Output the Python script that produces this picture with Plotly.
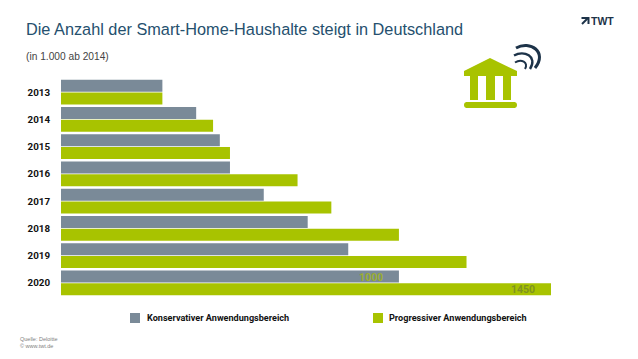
import plotly.graph_objects as go

W, H = 638, 359
years = ["2013", "2014", "2015", "2016", "2017", "2018", "2019", "2020"]
konservativ = [300, 400, 470, 500, 600, 730, 850, 1000]
progressiv = [300, 450, 500, 700, 800, 1000, 1200, 1450]
name_k = "Konservativer Anwendungsbereich"
name_p = "Progressiver Anwendungsbereich"
title = "Die Anzahl der Smart-Home-Haushalte steigt in Deutschland"
subtitle = "(in 1.000 ab 2014)"
source = "Quelle: Deloitte<br>© www.twt.de"

GRAY, GREEN, NAVY = "#7a8a98", "#a8c300", "#1d3349"
X0, X1, Y0, Y1 = 61, 551, 78.5, 296.5

px = lambda x: x / W
py = lambda y: 1 - y / H


def path(d):
    out = []
    for seg in d:
        cmd, *c = seg
        pts = [f"{px(c[i]):.5f},{py(c[i + 1]):.5f}" for i in range(0, len(c), 2)]
        out.append(cmd + " ".join(pts))
    return " ".join(out)


fig = go.Figure()
fig.add_bar(y=years, x=konservativ, name=name_k, orientation="h", marker_color=GRAY, marker_line_width=0)
fig.add_bar(y=years, x=progressiv, name=name_p, orientation="h", marker_color=GREEN, marker_line_width=0)

shapes = []


def rect(x0, y0, x1, y1, color):
    shapes.append(dict(type="rect", xref="paper", yref="paper", x0=px(x0), x1=px(x1), y0=py(y0), y1=py(y1),
                       fillcolor=color, line_width=0, layer="above"))


rect(130, 313, 140, 323, GRAY)
rect(373, 313, 383, 323, GREEN)
shapes.append(dict(type="path", xref="paper", yref="paper", fillcolor=GREEN, line_width=0,
                   path=path([("M", 490, 58), ("L", 517, 71), ("L", 517, 76), ("L", 464, 76), ("L", 464, 71)]) + " Z"))
rect(470, 75, 478, 100, GREEN)
rect(486, 75, 495, 100, GREEN)
rect(503, 75, 511, 100, GREEN)
rect(466, 102, 515, 108, GREEN)
shapes.append(dict(type="circle", xref="paper", yref="paper", fillcolor=GREEN, line_width=0,
                   x0=px(464), x1=px(470), y0=py(102), y1=py(108)))
shapes.append(dict(type="circle", xref="paper", yref="paper", fillcolor=GREEN, line_width=0,
                   x0=px(511), x1=px(517), y0=py(102), y1=py(108)))
for d, w in [([("M", 516, 48), ("C", 530, 40, 548, 52, 535, 68)], 3),
             ([("M", 514, 55.5), ("C", 524, 50, 538, 56, 530, 69)], 2.4),
             ([("M", 515, 62.5), ("C", 521, 58.5, 529, 62, 525, 69)], 2)]:
    shapes.append(dict(type="path", xref="paper", yref="paper", line=dict(color=NAVY, width=w), path=path(d)))
for d in [[("M", 582, 24), ("L", 588, 18)], [("M", 581.5, 18), ("L", 588.5, 18), ("L", 588.5, 24)]]:
    shapes.append(dict(type="path", xref="paper", yref="paper", line=dict(color=NAVY, width=2), path=path(d)))


def text(x, y, s, size, color, family="Liberation Sans", anchor="left", weight=None):
    return dict(xref="paper", yref="paper", x=px(x), y=py(y), text=s, showarrow=False, xanchor=anchor, yanchor="middle",
                align="left", font=dict(size=size, color=color, family=family, weight=weight))


BOLD = "Roboto"
annotations = [
    text(23.5, 29, title, 16.3, "#25506e"),
    text(23.5, 56.5, subtitle, 10.2, "#444444"),
    text(144.5, 318, name_k, 9.1, "#111111", BOLD, weight=700),
    text(386.5, 318, name_p, 9.1, "#111111", BOLD, weight=700),
    text(589, 21, "TWT", 10.5, NAVY, weight=700),
    dict(xref="paper", yref="paper", x=px(18), y=py(342), text=source, showarrow=False, xanchor="left", yanchor="middle",
         align="left", font=dict(size=5.5, color="#808080", family="Liberation Sans")),
    dict(x=konservativ[-1], y=len(years) - 1, xanchor="right", xshift=-14, yshift=5, yanchor="middle", showarrow=False,
         text=str(konservativ[-1]), font=dict(size=10.5, color="#9aae30", family=BOLD, weight=700)),
    dict(x=progressiv[-1], y=len(years) - 1, xanchor="right", xshift=-14, yshift=-7, yanchor="middle", showarrow=False,
         text=str(progressiv[-1]), font=dict(size=10.5, color="#7f9222", family=BOLD, weight=700)),
]

fig.update_layout(
    width=W, height=H, autosize=False,
    margin=dict(l=0, r=0, t=0, b=0),
    paper_bgcolor="white", plot_bgcolor="white",
    barmode="group", bargap=0.06, bargroupgap=0.06,
    showlegend=False,
    shapes=shapes, annotations=annotations,
    xaxis=dict(domain=[px(X0), px(X1)], range=[0, 1450], visible=False),
    yaxis=dict(domain=[py(Y1), py(Y0)], range=[len(years) - 0.5, -0.5], type="category",
               categoryorder="array", categoryarray=years, showgrid=False, showline=False,
               ticks="outside", ticklen=8, tickcolor="white", zeroline=False,
               tickfont=dict(size=9.8, color="#111111", family=BOLD, weight=700)),
)

fig.write_html("out.html", config=dict(displayModeBar=False),
               post_script="document.body.style.margin='0';")
